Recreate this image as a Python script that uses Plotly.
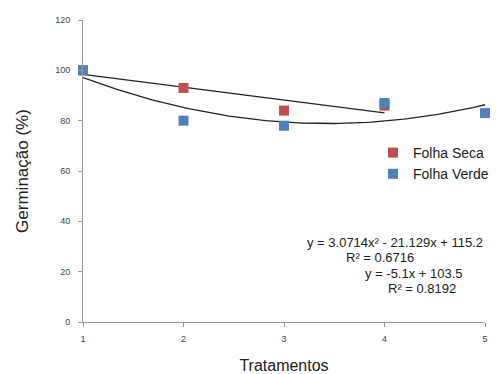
import numpy as np
import plotly.graph_objects as go

# Treatments and germination (%) for the two leaf conditions
tratamentos = [1, 2, 3, 4, 5]
folha_seca = [100, 93, 84, 86]
folha_verde = [100, 80, 78, 87, 83]

# Fitted trend-line coefficients (highest power first)
coef_verde = [3.0714, -21.129, 115.2]
coef_seca = [-5.1, 103.5]

eq_verde = "y = 3.0714x² - 21.129x + 115.2"
r2_verde = "R² = 0.6716"
eq_seca = "y = -5.1x + 103.5"
r2_seca = "R² = 0.8192"

y_ticks = [0, 20, 40, 60, 80, 100, 120]

FONT = "Liberation Sans, Arial, sans-serif"
RED = "#C0504D"
BLUE = "#4F81BD"

fig = go.Figure()

# trend lines
xs_seca = np.linspace(1, 4, 60)
xs_verde = np.linspace(1, 5, 100)
fig.add_trace(go.Scatter(x=xs_seca, y=np.polyval(coef_seca, xs_seca), mode="lines",
                         line=dict(color="#222", width=1.3), showlegend=False,
                         hoverinfo="skip"))
fig.add_trace(go.Scatter(x=xs_verde, y=np.polyval(coef_verde, xs_verde), mode="lines",
                         line=dict(color="#222", width=1.3), showlegend=False,
                         hoverinfo="skip"))

# data points
fig.add_trace(go.Scatter(x=tratamentos[:len(folha_seca)], y=folha_seca, mode="markers",
                         name="Folha Seca",
                         marker=dict(symbol="square", size=10, color=RED), cliponaxis=False))
fig.add_trace(go.Scatter(x=tratamentos, y=folha_verde, mode="markers",
                         name="Folha Verde",
                         marker=dict(symbol="square", size=10, color=BLUE), cliponaxis=False))

axis_common = dict(showgrid=False, zeroline=False, showline=True, linecolor="#999",
                   linewidth=1, ticks="outside", ticklen=4, tickcolor="#999",
                   tickfont=dict(family=FONT, size=9, color="#444"))

fig.update_xaxes(range=[1, 5], tickvals=tratamentos, ticklabelstandoff=4, **axis_common,
                 title=dict(text="Tratamentos", font=dict(family=FONT, size=16, color="#222"),
                            standoff=22))
fig.update_yaxes(range=[0, 120], tickvals=y_ticks, ticklabelstandoff=6, **axis_common,
                 title=dict(text="Germinação (%)", font=dict(family=FONT, size=17, color="#222"),
                            standoff=22))

ann_font = dict(family=FONT, size=13, color="#222")
annotations = [
    dict(text=eq_verde, x=395, y=242),
    dict(text=r2_verde, x=380, y=257),
    dict(text=eq_seca, x=414, y=273),
    dict(text=r2_seca, x=422, y=288),
]
px_x = lambda p: (p - 83) / 402
px_y = lambda p: (322 - p) / 302
fig.update_layout(
    annotations=[dict(text=a["text"], x=px_x(a["x"]), y=px_y(a["y"]), xref="paper", yref="paper",
                      showarrow=False, xanchor="center", yanchor="middle", font=ann_font)
                 for a in annotations],
    width=501, height=374,
    margin=dict(l=83, r=16, t=20, b=52, autoexpand=False),
    paper_bgcolor="white", plot_bgcolor="white",
    legend=dict(x=px_x(373), y=px_y(137), xanchor="left", yanchor="top",
                font=dict(family=FONT, size=14, color="#222"),
                bgcolor="rgba(0,0,0,0)", tracegroupgap=0, itemwidth=30),
)

fig.write_html("out.html")
